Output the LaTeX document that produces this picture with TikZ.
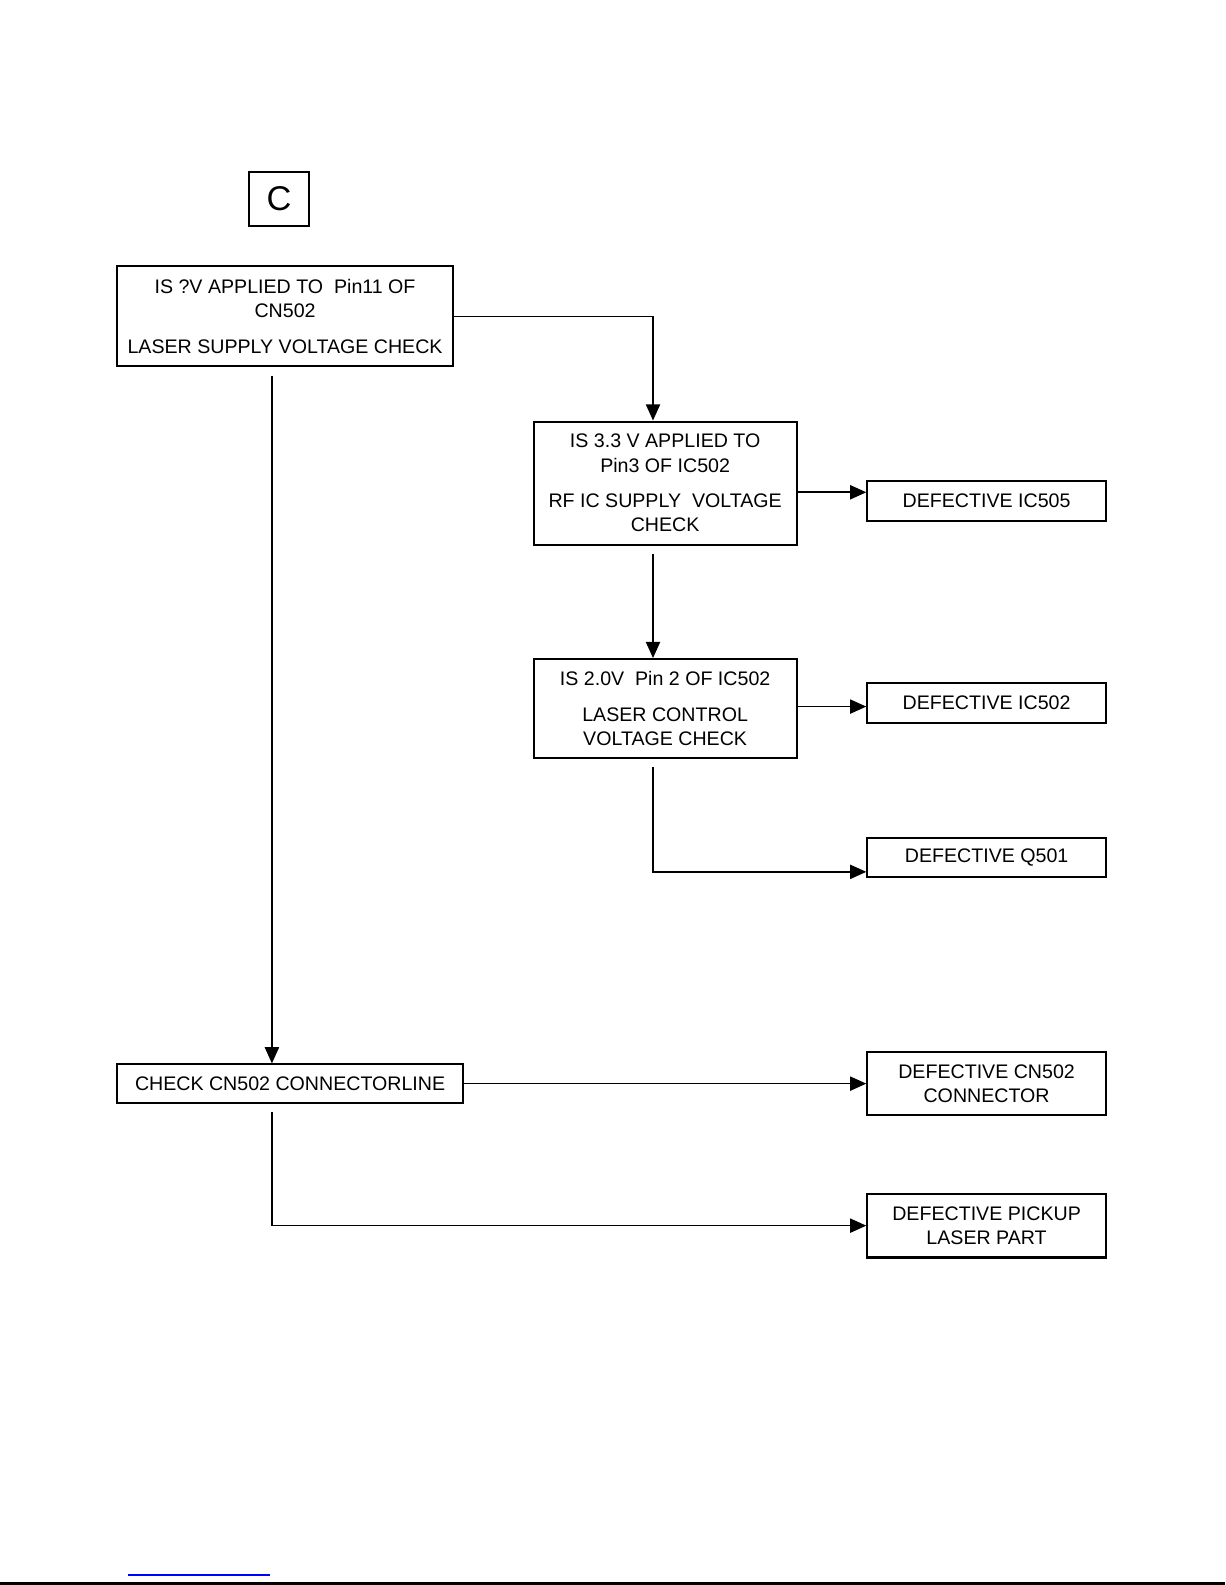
\documentclass[tikz,border=0pt]{standalone}
\usepackage{fontspec}
\setmainfont{Liberation Sans}
\usetikzlibrary{positioning, calc}
\usetikzlibrary{arrows.meta}

\begin{document}
\begin{tikzpicture}[x=0.5pt,y=-0.5pt,line width=0.8pt,draw=black!100]

	\def \colR{976}
	\tikzstyle{q-node}=[draw,line width=1pt,align=center,inner sep=0pt,font=\fontsize{9.7}{12}\selectfont]
	\tikzstyle{d-node}=[q-node,minimum width=118pt]
	\tikzstyle{arr}=[-{Triangle[length=8pt,width=7pt]}]
	\useasboundingbox (0,0) rectangle (1212,1568);

	% label
	\node[draw,line width=1pt,minimum width=29.5pt,minimum height=27pt,inner sep=0pt,font=\fontsize{17}{19}\selectfont] (lbl) at (276,197) {C};

	% checks
	\node[q-node,minimum width=166pt,minimum height=49.5pt] (qa) at (282,313) {IS ?V APPLIED TO\ \ Pin11 OF\\CN502\\[5.5pt]LASER SUPPLY VOLTAGE CHECK};
	\node[q-node,minimum width=130pt,minimum height=61pt] (qb) at (658,478) {IS 3.3 V APPLIED TO\\Pin3 OF IC502\\[5.5pt]RF IC SUPPLY\ \ VOLTAGE\\CHECK};
	\node[q-node,minimum width=130pt,minimum height=49pt] (qc) at (658,701) {IS 2.0V\ \ Pin 2 OF IC502\\[5.5pt]LASER CONTROL\\VOLTAGE CHECK};
	\node[q-node,minimum width=171pt,minimum height=19pt] (ce) at (287,1072) {CHECK CN502 CONNECTORLINE};

	% results
	\node[d-node,minimum height=19.5pt] (d1) at (\colR,495.5) {DEFECTIVE IC505};
	\node[d-node,minimum height=19.5pt] (d2) at (\colR,695.5) {DEFECTIVE IC502};
	\node[d-node,minimum height=19.5pt] (d3) at (\colR,848.5) {DEFECTIVE Q501};
	\node[d-node,minimum height=31pt] (d4) at (\colR,1072) {DEFECTIVE CN502\\CONNECTOR};
	\node[d-node,minimum height=31.5pt] (d5) at (\colR,1212.5) {DEFECTIVE PICKUP\\LASER PART};

	% connectors
	\draw[arr] (qa.east) -| ([xshift=-6pt]qb.north);
	\draw[arr] ([yshift=-4.5pt]qb.east) -- ([yshift=-4.5pt]qb.east -| d1.west);
	\draw[arr,shorten <=4pt] ([xshift=-6pt]qb.south) -- ([xshift=-6pt]qc.north);
	\draw[arr] ([yshift=1pt]qc.east) -- ([yshift=1pt]qc.east -| d2.west);
	\draw[arr,shorten <=4pt] ([xshift=-6pt]qc.south) |- ([yshift=-7pt]d3.west);
	\draw[arr,shorten <=4pt] ([xshift=-6.5pt]qa.south) -- ([xshift=-6.5pt]qa.south |- ce.north);
	\draw[arr] (ce.east) -- (d4.west);
	\draw[arr,shorten <=4pt] ([xshift=-9pt]ce.south) |- (d5.west);

	% page foot
	\draw[blue,line width=1pt] (127,1558) -- (267,1558);
	\draw[line width=1.2pt] (0,1566.5) -- (1212,1566.5);
\end{tikzpicture}
\end{document}
